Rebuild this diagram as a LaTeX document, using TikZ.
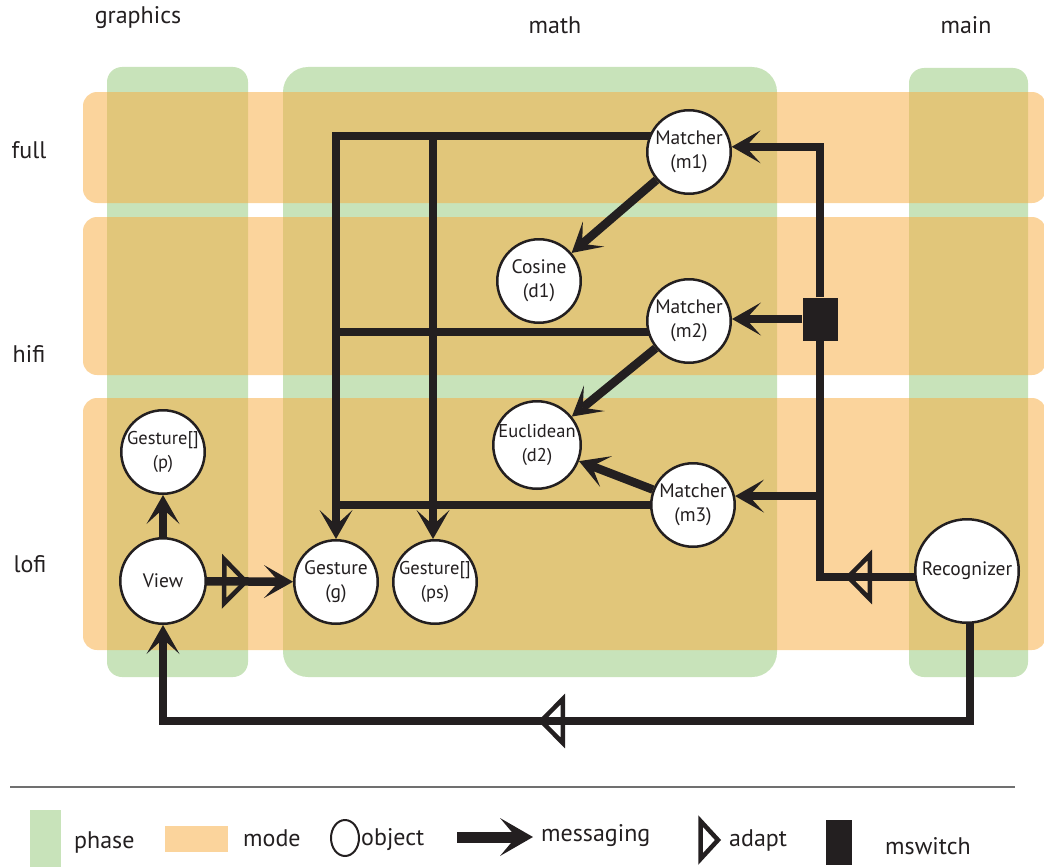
\documentclass[tikz,border=0pt]{standalone}
\usepackage{fontspec}
\setmainfont{PT Sans}
\usetikzlibrary{arrows.meta,decorations.markings,calc}

\definecolor{ink}{HTML}{231F20}
\definecolor{phasegreen}{HTML}{C8E3BA}
\definecolor{modeorange}{HTML}{F8AD41}
\definecolor{modelight}{HTML}{FBD49C}
\definecolor{rulegray}{HTML}{707070}

\pgfdeclarelayer{bands}
\pgfdeclarelayer{wires}
\pgfsetlayers{bands,wires,main}

\tikzset{
  msgtip/.tip={Stealth[length=29pt,width=33pt,inset=15pt,line width=0pt]},
  adapttip/.tip={Triangle[open,length=27pt,width=54pt,line width=4.5pt]},
  wire/.style={draw=ink, line width=8.5pt},
  msg/.style={wire, -msgtip},
  adaptat/.style={postaction={decorate},
    decoration={markings, mark=at position #1 with {\arrow[ink]{adapttip}}}},
  obj/.style={circle, draw=ink, line width=2.5pt, fill=white, inner sep=0pt,
    align=center, text=ink, font=\fontsize{19.5}{24}\selectfont},
  phase/.style={fill=phasegreen},
  mode/.style={fill=modeorange, fill opacity=0.52},
  lbl/.style={text=ink, inner sep=0pt, font=\fontsize{24}{28}\selectfont},
}

\begin{document}
\begin{tikzpicture}[x=1pt,y=-1pt]
\useasboundingbox (0,0) rectangle (1044,867);

% phase columns and mode rows
\begin{pgfonlayer}{bands}
  \fill[phase, rounded corners=15pt] (107,67) rectangle (248,677);
  \fill[phase, rounded corners=25pt] (283,67) rectangle (777,677);
  \fill[phase, rounded corners=15pt] (909,68) rectangle (1028,677);
  \fill[mode, rounded corners=14pt] (83,92) rectangle (1046,203);
  \fill[mode, rounded corners=14pt] (83,217) rectangle (1046,375);
  \fill[mode, rounded corners=14pt] (83,398) rectangle (1046,650);
\end{pgfonlayer}

% column and row titles
\node[lbl] (tgraphics) at (138,18) {graphics};
\node[lbl] (tmath) at (555,25) {math};
\node[lbl] (tmain) at (966,25) {main};
\node[lbl] (tfull) at (29,150) {full};
\node[lbl] (thifi) at (29,354) {hifi};
\node[lbl] (tlofi) at (30,564) {lofi};

% objects
\node[obj, minimum size=83.5pt] (m1) at (689,152) {Matcher\\(m1)};
\node[obj, minimum size=83.5pt] (d1) at (539,281) {Cosine\\(d1)};
\node[obj, minimum size=83.5pt] (m2) at (689,321) {Matcher\\(m2)};
\node[obj, minimum size=85.5pt, font=\fontsize{18.5}{24}\selectfont] (d2) at (537,445) {Euclidean\\(d2)};
\node[obj, minimum size=83.5pt] (m3) at (693,505) {Matcher\\(m3)};
\node[obj, minimum size=83.5pt, font=\fontsize{18.5}{24}\selectfont] (p) at (163,452) {Gesture[]\\(p)};
\node[obj, minimum size=85.5pt] (view) at (163,581) {View};
\node[obj, minimum size=83.5pt] (g) at (336,582) {Gesture\\(g)};
\node[obj, minimum size=83.5pt, font=\fontsize{18.5}{24}\selectfont] (ps) at (435,582) {Gesture[]\\(ps)};
\node[obj, minimum size=103.5pt] (rec) at (967,571) {Recognizer};
\node[fill=ink, minimum width=35pt, minimum height=43pt, inner sep=0pt] (sw) at (820,319) {};

% bus corners
\coordinate (tl) at (336,136);
\coordinate (tm) at (433,136);
\coordinate (hl) at (336,332);
\coordinate (ll) at (336,505);
\coordinate (rt) at (820,577);
\coordinate (br) at (970,721);
\coordinate (bl) at (163,721);

\begin{pgfonlayer}{wires}
  \draw[msg] (m1.center |- tl) -| (g.north);
  \draw[msg] (tm) -- (tm |- ps.north);
  \draw[wire] (m2.center |- hl) -- (hl);
  \draw[wire] (m3.center |- ll) -- (ll);
  \draw[msg] (m1) -- (d1);
  \draw[msg] (m2) -- (d2);
  \draw[msg] (m3) -- (d2);
  \draw[msg] (view) -- (p);
  \draw[msg, adaptat=42pt] (view) -- (g);
  \draw[wire, adaptat=122pt] (rec.center |- rt) -- (rt) -- (sw.south);
  \draw[msg] (sw.north) |- (m1.7);
  \draw[msg] (sw) -- (sw -| m2.east);
  \draw[msg] (sw.south |- m3.12) -- (m3.12);
  \draw[msg, adaptat=582pt] (rec.center -| br) -- (br) -- (bl) -- (view.south);
\end{pgfonlayer}

% legend
\draw[rulegray, line width=1.2pt] (10,787) -- (1015,787);
\fill[phase] (30,810) rectangle (61,867);
\node[lbl, anchor=west] (lphase) at (74,842) {phase};
\fill[modelight] (165,826) rectangle (228,852);
\node[lbl, anchor=west] (lmode) at (243,838) {mode};
\draw[ink, line width=2pt] (345,838) ellipse [x radius=14pt, y radius=18pt];
\node[lbl, anchor=west] (lobject) at (361,840) {object};
\draw[ink, line width=11pt, -{Stealth[length=33pt,width=38pt,inset=16pt,line width=0pt]}] (457,837) -- (533,837);
\node[lbl, anchor=west] (lmsg) at (541,836) {messaging};
\draw[ink, line width=4.5pt] (700.5,821) -- (718,840) -- (700.5,859) -- cycle;
\node[lbl, anchor=west] (ladapt) at (729,840) {adapt};
\fill[ink] (826,820) rectangle (852,865);
\node[lbl, anchor=west] (lswitch) at (885,846) {mswitch};
\end{tikzpicture}
\end{document}
